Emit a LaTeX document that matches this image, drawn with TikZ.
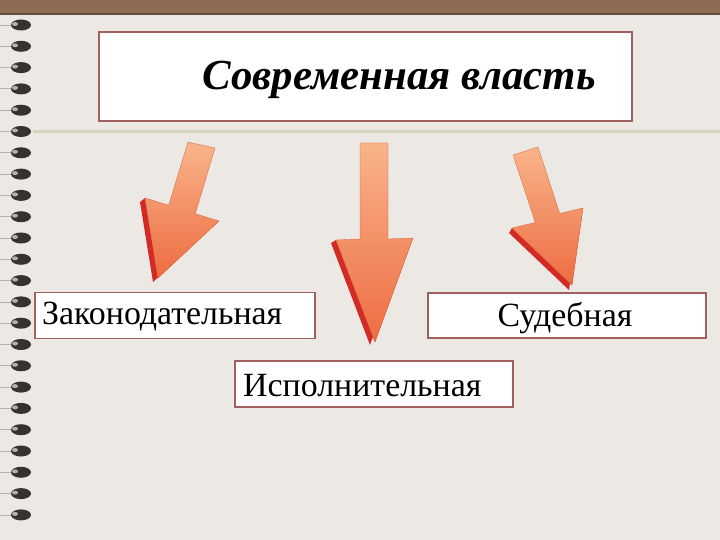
\documentclass[tikz,border=0pt]{standalone}
\usepackage{fontspec}
\setmainfont{Liberation Serif}
\usetikzlibrary{calc}

\definecolor{paper}{HTML}{ECE9E5}
\definecolor{topbar}{HTML}{8E6B52}
\definecolor{frame}{HTML}{A0605E}
\definecolor{rule}{HTML}{D6D4BE}
\definecolor{ring}{HTML}{35332C}
\definecolor{arrowlight}{HTML}{F9B48A}
\definecolor{arrowmid}{HTML}{EE6C42}
\definecolor{arrowdark}{HTML}{D42A26}

\tikzset{
  box/.style={draw=frame, line width=1.5bp, fill=white, inner sep=0pt},
  boxtext/.style={font=\fontsize{34}{40}\selectfont, inner sep=0pt, anchor=west},
  arrowside/.style={fill=arrowdark},
  arrowface/.style={top color=arrowlight, bottom color=arrowmid, draw=arrowmid!90!black, line width=0.3bp}
}

% big 3d arrow: #1 shaft top left, #2 shaft top right, #3 join left, #4 join right,
% #5 head left, #6 head right, #7 tip, #8 depth offset
\newcommand{\bigarrow}[8]{
  \fill[arrowside] ($#5+#8$) -- ($#7+#8$) -- ($#6+#8$) -- #6 -- #7 -- #5 -- cycle;
  \path[arrowface] #1 -- #3 -- #5 -- #7 -- #6 -- #4 -- #2 -- cycle;
}

\begin{document}
\begin{tikzpicture}[x=1bp,y=-1bp]
\useasboundingbox (0,0) rectangle (720,540);
\fill[paper] (0,0) rectangle (720,540);
% top bar and ruled line
\fill[topbar] (0,0) rectangle (720,13);
\fill[topbar!70!black] (0,13) rectangle (720,15);
\fill[rule] (33,130) rectangle (720,133);

% spiral binding
\foreach \i in {0,...,23}{
  \pgfmathsetmacro{\y}{25+21.3*\i}
  \draw[gray!60, line width=0.8bp] (0,\y) -- (12,\y);
  \fill[ring] (21,\y) ellipse[x radius=10, y radius=5.5];
  \fill[gray!60] (15,\y-1) ellipse[x radius=3, y radius=2];
}

% title
\node[box, minimum width=533bp, minimum height=89bp] (titlebox) at (365.5,76.5) {};
\node[font=\fontsize{43}{50}\selectfont\bfseries\itshape, inner sep=0pt] (title) at (399,80) {Современная власть};

% branches
\node[box, minimum width=280bp, minimum height=46bp] (zakbox) at (175,315.5) {};
\node[boxtext] (zak) at (42,317) {Законодательная};

\node[box, minimum width=278bp, minimum height=45bp] (sudbox) at (567,315.5) {};
\node[font=\fontsize{34}{40}\selectfont, inner sep=0pt] (sud) at (565,318) {Судебная};

\node[box, minimum width=278bp, minimum height=46bp] (ispbox) at (374,384) {};
\node[boxtext] (isp) at (243,386) {Исполнительная};

% arrows
\bigarrow{(188,142)}{(215,148)}{(168.7,205.2)}{(195.3,213.8)}{(145,198)}{(219,221)}{(158,278)}{(-5,4)}
\bigarrow{(360,143)}{(388,143)}{(360,239)}{(388,239)}{(336,240)}{(413,238)}{(375,342)}{(-5,3)}
\bigarrow{(513,155)}{(538,147)}{(535.3,222.5)}{(559.7,213.5)}{(512,228)}{(583,208)}{(572,285)}{(-3,5)}

\end{tikzpicture}
\end{document}
